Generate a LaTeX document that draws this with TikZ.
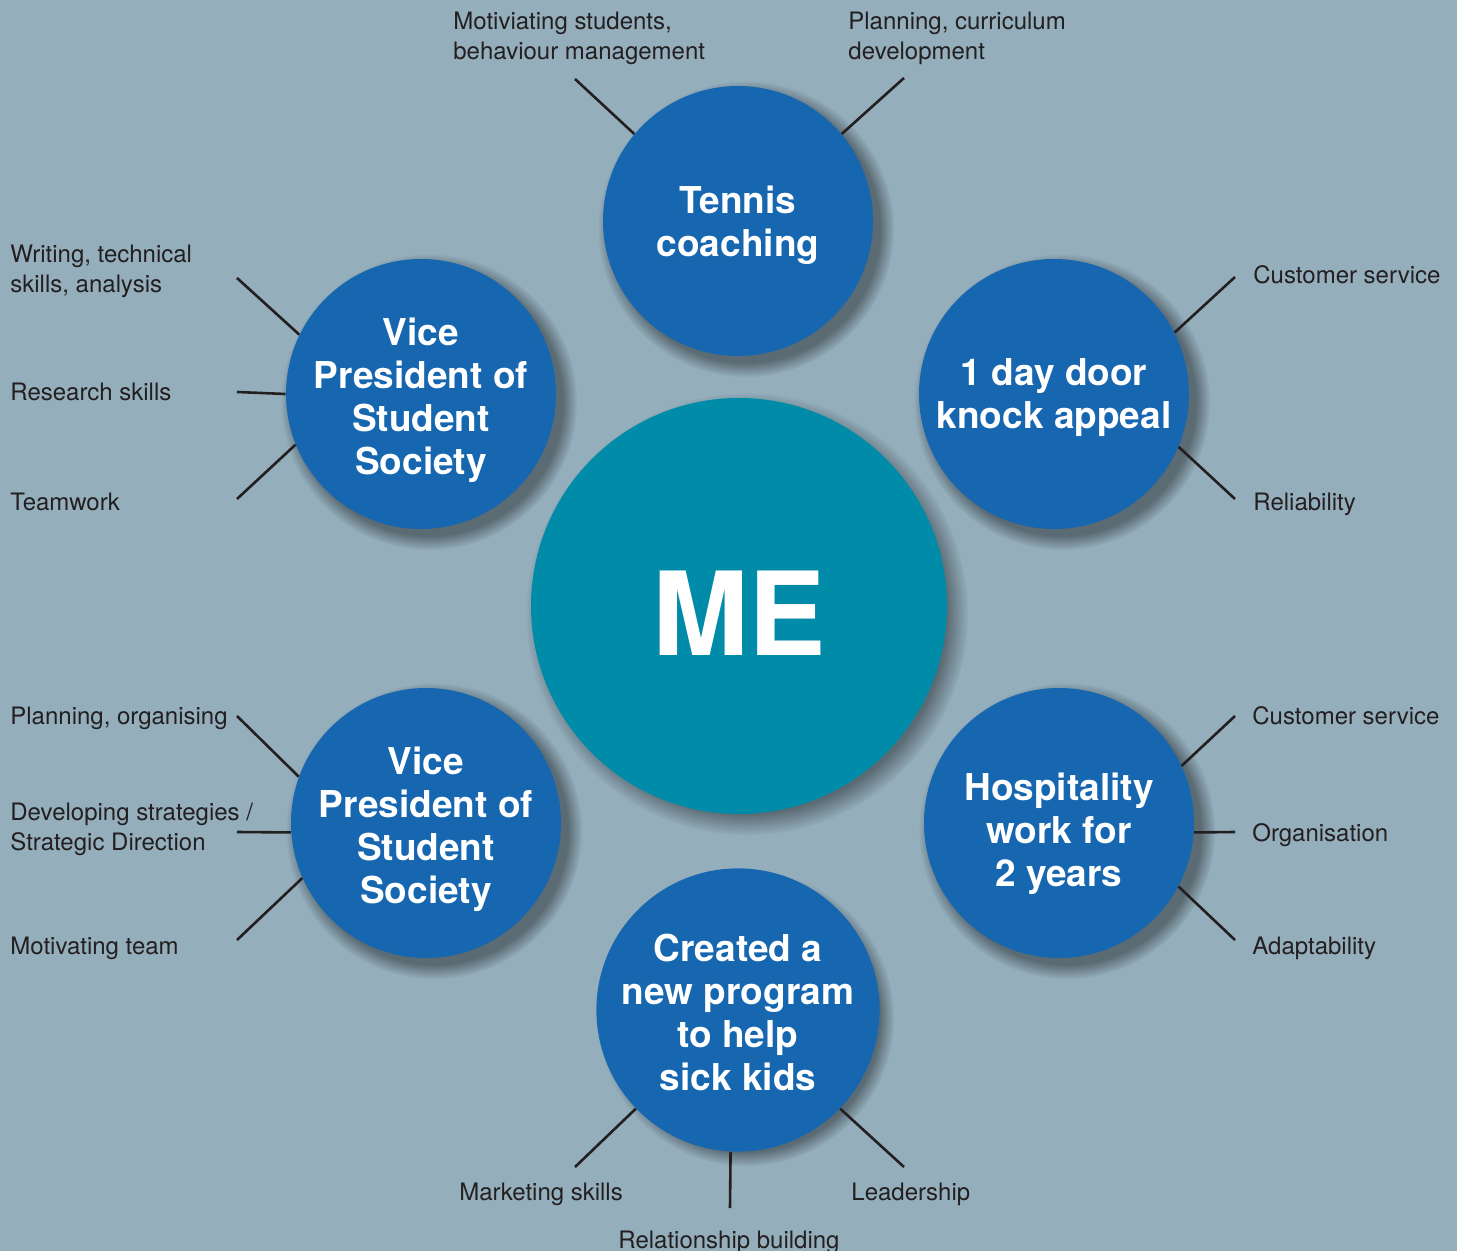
\documentclass[tikz,border=0pt]{standalone}
\usepackage{fontspec}
\setmainfont{TeX Gyre Heros}
\usepackage{tikz}
\usetikzlibrary{fadings}
\definecolor{bgblue}{HTML}{94AEBC}
\definecolor{ringblue}{HTML}{1666B0}
\definecolor{meteal}{HTML}{008BA8}
\definecolor{inkdark}{HTML}{231F20}

\pgfdeclareradialshading{softedge}{\pgfpointorigin}{color(0bp)=(pgftransparent!0); color(22.5bp)=(pgftransparent!0); color(25bp)=(pgftransparent!100); color(50bp)=(pgftransparent!100)}
\pgfdeclarefading{softshadow}{\pgfuseshading{softedge}}

\newcommand{\toplift}[1]{\rule{0pt}{#1}}

\tikzset{
  bubble/.style={circle, fill=ringblue, minimum size=135pt, inner sep=0pt,
    align=center, text=white, text depth=0pt, font=\fontsize{18.5}{21.5}\selectfont\bfseries},
  skill/.style={anchor=north west, inner sep=0pt, align=left, text=inkdark,
    font=\fontsize{12}{15}\selectfont},
  spoke/.style={draw=inkdark, line width=1.3pt},
  dropshade/.style={fill=black, opacity=0.38, path fading=softshadow}
}

\begin{document}
\begin{tikzpicture}[x=0.5pt, y=-0.5pt]
    \fill[bgblue] (0,0) rectangle (1457,1251);
    \useasboundingbox (0,0) rectangle (1457,1251);

    % shadows under the circles
    \foreach \cx/\cy/\r in {739/606/208, 738/221/135, 1054/394/135, 421/394/135,
        426/823/135, 1059/823/135, 738/1010/135}
        \fill[dropshade] (\cx+8,\cy+8) circle[radius=\r+13];

    \node(ME)[circle, fill=meteal, minimum size=208pt, inner sep=0pt, text=white,
        text height=49pt, font=\fontsize{58}{60}\selectfont\bfseries] at (739,606) {ME};

    \node(tennis)[bubble] at (738,221) {Tennis\\coaching};
    \node(door)[bubble] at (1054,394) {1 day door\\knock appeal};
    \node(vpA)[bubble] at (421,394) {\toplift{16.3pt}Vice\\President of\\Student\\Society};
    \node(vpB)[bubble] at (426,823) {\toplift{16.3pt}Vice\\President of\\Student\\Society};
    \node(hosp)[bubble] at (1059,823) {\toplift{20.3pt}Hospitality\\work for\\2 years};
    \node(kids)[bubble] at (738,1010) {\toplift{16.3pt}Created a\\new program\\to help\\sick kids};

    \node(t1)[skill] at (453,12) {Motiviating students,\\behaviour management};
    \node(t2)[skill] at (848,12) {Planning, curriculum\\development};
    \node(a1)[skill] at (10,245) {Writing, technical\\skills, analysis};
    \node(a2)[skill] at (10,383) {Research skills};
    \node(a3)[skill] at (10,493) {Teamwork};
    \node(d1)[skill] at (1253,265) {Customer service};
    \node(d2)[skill] at (1253,493) {Reliability};
    \node(b1)[skill] at (10,707) {Planning, organising};
    \node(b2)[skill] at (10,803) {Developing strategies /\\Strategic Direction};
    \node(b3)[skill] at (10,937) {Motivating team};
    \node(h1)[skill] at (1252,706) {Customer service};
    \node(h2)[skill] at (1252,823) {Organisation};
    \node(h3)[skill] at (1252,937) {Adaptability};
    \node(k1)[skill] at (459,1183) {Marketing skills};
    \node(k2)[skill] at (618,1231) {Relationship building};
    \node(k3)[skill] at (851,1183) {Leadership};

    \coordinate(t1e) at (575,79);
    \coordinate(t2e) at (904,78);
    \coordinate(a1e) at (237,278);
    \coordinate(a2e) at (237,392);
    \coordinate(a3e) at (237,499);
    \coordinate(d1e) at (1235,277);
    \coordinate(d2e) at (1235,499);
    \coordinate(b1e) at (237,716);
    \coordinate(b2e) at (237,832);
    \coordinate(b3e) at (237,940);
    \coordinate(h1e) at (1235,716);
    \coordinate(h2e) at (1235,832);
    \coordinate(h3e) at (1235,940);
    \coordinate(k1e) at (575,1167);
    \coordinate(k2e) at (730,1208);
    \coordinate(k3e) at (904,1167);

    \draw[spoke] (tennis.140) -- (t1e);
    \draw[spoke] (tennis.40) -- (t2e);
    \draw[spoke] (vpA.154) -- (a1e);
    \draw[spoke] (vpA.180) -- (a2e);
    \draw[spoke] (vpA.202) -- (a3e);
    \draw[spoke] (door.27) -- (d1e);
    \draw[spoke] (door.337) -- (d2e);
    \draw[spoke] (vpB.160) -- (b1e);
    \draw[spoke] (vpB.184) -- (b2e);
    \draw[spoke] (vpB.204) -- (b3e);
    \draw[spoke] (hosp.25) -- (h1e);
    \draw[spoke] (hosp.-4) -- (h2e);
    \draw[spoke] (hosp.332) -- (h3e);
    \draw[spoke] (kids.224) -- (k1e);
    \draw[spoke] (kids.267) -- (k2e);
    \draw[spoke] (kids.316) -- (k3e);
\end{tikzpicture}
\end{document}
